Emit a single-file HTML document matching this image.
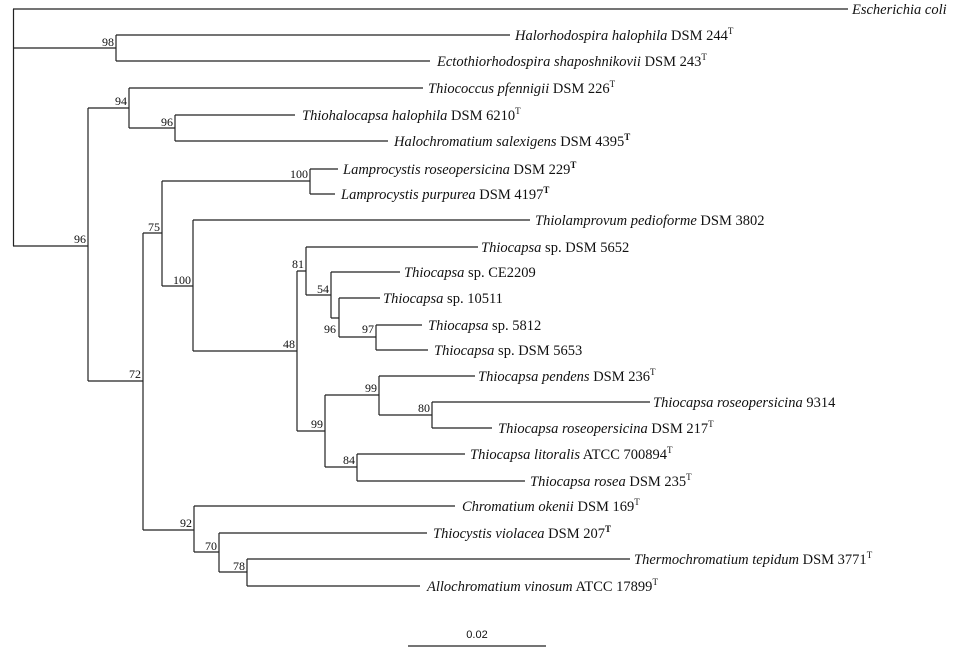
<!DOCTYPE html>
<html><head><meta charset="utf-8"><style>
html,body{margin:0;padding:0;background:#fff;}
svg{display:block;}
text{font-family:"Liberation Serif",serif;fill:#111;}
text.s{font-family:"Liberation Sans",sans-serif;}
.t{font-size:14.5px;}
.b{font-size:12px;}
</style></head><body>
<svg width="958" height="652" viewBox="0 0 958 652" xmlns="http://www.w3.org/2000/svg">
<g stroke="#222" stroke-width="1.2" fill="none">
<path d="M13.5 9V246M13 9H848M13 48H116M116 35V61M116 35H510M116 61H430"/>
<path d="M13 246H88M88 108V381M88 108H129M129 88V128M129 88H423M129 128H175M175 115V141M175 115H295M175 141H388"/>
<path d="M88 381H143M143 233V530M143 233H162M162 181V286M162 181H310M310 169V194M310 169H338M310 194H335"/>
<path d="M162 286H193M193 220V351M193 220H530M193 351H297M297 271V431M297 271H306M306 247V295M306 247H478M306 295H331M331 272V318M331 272H400M331 318H339M339 298V337M339 298H380M339 337H376M376 325V350M376 325H422M376 350H428"/>
<path d="M297 431H325M325 395V467M325 395H379M379 376V415M379 376H475M379 415H432M432 402V428M432 402H650M432 428H492M325 467H357M357 454V481M357 454H465M357 481H525"/>
<path d="M143 530H194M194 506V552M194 506H455M194 552H219M219 533V572M219 533H427M219 572H247M247 559V586M247 559H630M247 586H420"/>
<path d="M408 646H546"/>
</g>
<g class="t">
<text x="852" y="14"><tspan font-style="italic">Escherichia coli</tspan></text>
<text x="515" y="40"><tspan font-style="italic">Halorhodospira halophila</tspan> DSM 244<tspan font-size="9" dy="-6">T</tspan></text>
<text x="437" y="66"><tspan font-style="italic">Ectothiorhodospira shaposhnikovii</tspan> DSM 243<tspan font-size="9" dy="-6">T</tspan></text>
<text x="428" y="93"><tspan font-style="italic">Thiococcus pfennigii</tspan> DSM 226<tspan font-size="9" dy="-6">T</tspan></text>
<text x="302" y="120"><tspan font-style="italic">Thiohalocapsa halophila</tspan> DSM 6210<tspan font-size="9" dy="-6">T</tspan></text>
<text x="394" y="146"><tspan font-style="italic">Halochromatium salexigens</tspan> DSM 4395<tspan font-size="9" dy="-6" font-weight="bold">T</tspan></text>
<text x="343" y="174"><tspan font-style="italic">Lamprocystis roseopersicina</tspan> DSM 229<tspan font-size="9" dy="-6" font-weight="bold">T</tspan></text>
<text x="341" y="199"><tspan font-style="italic">Lamprocystis purpurea</tspan> DSM 4197<tspan font-size="9" dy="-6" font-weight="bold">T</tspan></text>
<text x="535" y="225"><tspan font-style="italic">Thiolamprovum pedioforme</tspan> DSM 3802</text>
<text x="481" y="252"><tspan font-style="italic">Thiocapsa</tspan> sp. DSM 5652</text>
<text x="404" y="277"><tspan font-style="italic">Thiocapsa</tspan> sp. CE2209</text>
<text x="383" y="303"><tspan font-style="italic">Thiocapsa</tspan> sp. 10511</text>
<text x="428" y="330"><tspan font-style="italic">Thiocapsa</tspan> sp. 5812</text>
<text x="434" y="355"><tspan font-style="italic">Thiocapsa</tspan> sp. DSM 5653</text>
<text x="478" y="381"><tspan font-style="italic">Thiocapsa pendens</tspan> DSM 236<tspan font-size="9" dy="-6">T</tspan></text>
<text x="653" y="407"><tspan font-style="italic">Thiocapsa roseopersicina</tspan> 9314</text>
<text x="498" y="433"><tspan font-style="italic">Thiocapsa roseopersicina</tspan> DSM 217<tspan font-size="9" dy="-6">T</tspan></text>
<text x="470" y="459"><tspan font-style="italic">Thiocapsa litoralis</tspan> ATCC 700894<tspan font-size="9" dy="-6">T</tspan></text>
<text x="530" y="486"><tspan font-style="italic">Thiocapsa rosea</tspan> DSM 235<tspan font-size="9" dy="-6">T</tspan></text>
<text x="462" y="511"><tspan font-style="italic">Chromatium okenii</tspan> DSM 169<tspan font-size="9" dy="-6">T</tspan></text>
<text x="433" y="538"><tspan font-style="italic">Thiocystis violacea</tspan> DSM 207<tspan font-size="9" dy="-6" font-weight="bold">T</tspan></text>
<text x="634" y="564"><tspan font-style="italic">Thermochromatium tepidum</tspan> DSM 3771<tspan font-size="9" dy="-6">T</tspan></text>
<text x="427" y="591"><tspan font-style="italic">Allochromatium vinosum</tspan> ATCC 17899<tspan font-size="9" dy="-6">T</tspan></text>
</g>
<g class="b" text-anchor="end">
<text x="114" y="46">98</text>
<text x="127" y="105">94</text>
<text x="173" y="126">96</text>
<text x="308" y="178">100</text>
<text x="160" y="231">75</text>
<text x="86" y="243">96</text>
<text x="191" y="284">100</text>
<text x="304" y="268">81</text>
<text x="329" y="293">54</text>
<text x="336" y="333">96</text>
<text x="374" y="333">97</text>
<text x="295" y="348">48</text>
<text x="141" y="378">72</text>
<text x="377" y="392">99</text>
<text x="430" y="412">80</text>
<text x="323" y="428">99</text>
<text x="355" y="464">84</text>
<text x="192" y="527">92</text>
<text x="217" y="550">70</text>
<text x="245" y="570">78</text>
</g>
<text class="s" x="477" y="638" text-anchor="middle" font-size="11">0.02</text>
</svg>
</body></html>
